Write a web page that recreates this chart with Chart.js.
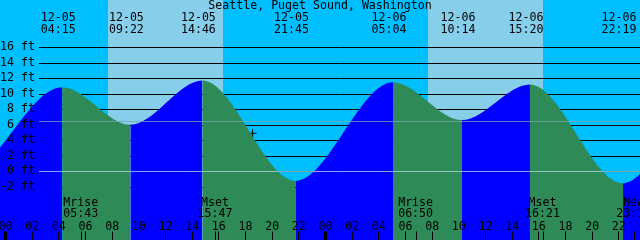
<!DOCTYPE html>
<html>
<head>
<meta charset="utf-8">
<script src="https://cdn.jsdelivr.net/npm/chart.js@4/dist/chart.umd.min.js"></script>
<style>
  html, body { margin: 0; padding: 0; background: #00bfff; }
  canvas { display: block; }
</style>
</head>
<body>
<canvas id="c" width="640" height="240"></canvas>
<script>
// ---------------- data ----------------
const stationTitle = 'Seattle, Puget Sound, Washington';
// tide extremes (the first two and last two lie just outside the visible window)
const tideTimes   = ['12-04 14:05', '12-04 20:55', '12-05 04:15', '12-05 09:22', '12-05 14:46', '12-05 21:45',
                     '12-06 05:04', '12-06 10:14', '12-06 15:20', '12-06 22:19', '12-07 05:00', '12-07 10:50'];
const tideHeights = [11.6, -0.3, 10.85, 6.0, 11.7, -1.25, 11.5, 6.6, 11.2, -1.55, 11.0, 7.0];
// daylight
const sunriseTimes = ['12-05 07:39', '12-06 07:40'];
const sunsetTimes  = ['12-05 16:17', '12-06 16:17'];
// moon events
const moonEvents = ['Mrise', 'Mset', 'Mrise', 'Mset', 'New'];
const moonTimes  = ['12-05 05:43', '12-05 15:47', '12-06 06:50', '12-06 16:21', '12-06 23:11'];
// bottom hour axis
const hourTickValues = [0, 2, 4, 6, 8, 10, 12, 14, 16, 18, 20, 22, 24, 26, 28, 30, 32, 34, 36, 38, 40, 42, 44, 46, 48];
const hourTickLabels = ['00', '02', '04', '06', '08', '10', '12', '14', '16', '18', '20', '22',
                        '00', '02', '04', '06', '08', '10', '12', '14', '16', '18', '20', '22', '00'];
const hourMarkValues = [0, 2, 4, 6, 8, 12, 14, 16, 18, 20, 22, 24, 26, 28, 30, 32, 36, 38, 40, 42, 44, 46];
// depth axis
const depthTickValues = [-2, 0, 2, 4, 6, 8, 10, 12, 14, 16];
const depthTickLabels = ['-2 ft', '0 ft', '2 ft', '4 ft', '6 ft', '8 ft', '10 ft', '12 ft', '14 ft', '16 ft'];
// reference levels: mean sea level and datum
const mslLevel = 6.5;
const datumLevel = 0;
// current-time marker
const nowTime = '12-05 18:32';
const nowHeight = 4.9;

// ---------------- helpers / styles ----------------
function toHours(s) {
  const day = parseInt(s.slice(3, 5), 10) - 5;
  const hh = parseInt(s.slice(6, 8), 10);
  const mm = parseInt(s.slice(9, 11), 10);
  return day * 24 + hh + mm / 60;
}
const FONT_FAMILY = '"DejaVu Sans Mono", "Liberation Mono", monospace';
const FONT_SIZE = 11.6;
const tickFont = { family: FONT_FAMILY, size: FONT_SIZE, lineHeight: 1.2 };
const NIGHT = '#00bfff';
const DAY = '#87ceeb';
const RISING = '#0000ff';
const FALLING = '#2e8b57';
const X_MIN = -0.4125, X_MAX = X_MIN + 48;
const Y_MAX = 20.558, Y_MIN = -8.884;
const GRID_LEFT = 39;

function noPadX(s) { s.height = 0; s.paddingLeft = 0; s.paddingRight = 0; s.paddingTop = 0; s.paddingBottom = 0; }
function noPadY(s) { s.width = 0; s.paddingLeft = 0; s.paddingRight = 0; s.paddingTop = 0; s.paddingBottom = 0; }

const backgroundPlugin = {
  id: 'skyBands',
  beforeDraw(chart) {
    const { ctx, width, height } = chart;
    const xs = chart.scales.x;
    ctx.save();
    ctx.fillStyle = NIGHT;
    ctx.fillRect(0, 0, width, height);
    ctx.fillStyle = DAY;
    sunriseTimes.forEach((r, i) => {
      const a = Math.round(xs.getPixelForValue(toHours(r)));
      const b = Math.round(xs.getPixelForValue(toHours(sunsetTimes[i])));
      ctx.fillRect(a, 0, b - a, height);
    });
    ctx.restore();
  },
  beforeDatasetsDraw(chart) {
    const { ctx, chartArea } = chart;
    const ys = chart.scales.y;
    ctx.save();
    ctx.strokeStyle = '#000';
    ctx.lineWidth = 1;
    depthTickValues.forEach(v => {
      const y = Math.round(ys.getPixelForValue(v)) + 0.5;
      ctx.beginPath();
      ctx.moveTo(GRID_LEFT, y);
      ctx.lineTo(chartArea.right, y);
      ctx.stroke();
    });
    ctx.restore();
  },
  afterDatasetsDraw(chart) {
    const { ctx, chartArea } = chart;
    const ys = chart.scales.y;
    ctx.save();
    ctx.lineWidth = 1;
    [[mslLevel, 'rgba(120,165,180,0.75)'], [datumLevel, 'rgba(170,220,235,0.75)']].forEach(([v, col]) => {
      const y = Math.round(ys.getPixelForValue(v)) + 0.5;
      ctx.strokeStyle = col;
      ctx.beginPath();
      ctx.moveTo(GRID_LEFT, y);
      ctx.lineTo(chartArea.right, y);
      ctx.stroke();
    });
    ctx.restore();
  },
  afterDraw(chart) {
    const { ctx } = chart;
    const xs = chart.scales.x;
    ctx.save();
    ctx.font = FONT_SIZE + 'px ' + FONT_FAMILY;
    ctx.fillStyle = '#000';
    ctx.textAlign = 'center';
    ctx.textBaseline = 'middle';
    tideTimes.forEach(t => {
      const h = toHours(t);
      if (h < X_MIN || h > X_MAX) return;
      const px = xs.getPixelForValue(h) - 4;
      ctx.fillText(t.slice(0, 5), px, 17.5);
      ctx.fillText(t.slice(6), px, 29.5);
    });
    moonTimes.forEach((t, i) => {
      const px = xs.getPixelForValue(toHours(t)) - 1;
      ctx.fillText(moonEvents[i], px, 202.5);
      ctx.fillText(t.slice(6), px, 213.5);
    });
    ctx.restore();
  }
};

const tideData = tideTimes.map((t, i) => ({ x: toHours(t), y: tideHeights[i] }));
const markTicks = hourMarkValues.concat(moonTimes.map(toHours));

new Chart(document.getElementById('c'), {
  type: 'line',
  data: {
    datasets: [
      {
        data: tideData,
        fill: 'start',
        backgroundColor: RISING,
        borderColor: 'rgba(0,0,0,0)',
        borderWidth: 0,
        pointRadius: 0,
        cubicInterpolationMode: 'monotone',
        segment: {
          backgroundColor: c => (c.p1.parsed.y > c.p0.parsed.y ? RISING : FALLING)
        }
      },
      {
        data: [{ x: toHours(nowTime), y: nowHeight }],
        showLine: false,
        fill: false,
        pointStyle: 'cross',
        pointRadius: 4,
        borderWidth: 1,
        borderColor: '#000',
        backgroundColor: '#000'
      }
    ]
  },
  options: {
    responsive: false,
    animation: false,
    devicePixelRatio: 1,
    layout: { padding: 0, autoPadding: false },
    events: [],
    plugins: {
      legend: { display: false },
      tooltip: { enabled: false },
      title: {
        display: true,
        text: stationTitle,
        color: '#000',
        font: { family: FONT_FAMILY, size: FONT_SIZE, lineHeight: '12px', weight: 'normal' },
        padding: { top: 0, bottom: 0 }
      }
    },
    scales: {
      x: {
        type: 'linear',
        position: 'bottom',
        min: X_MIN,
        max: X_MAX,
        afterFit: noPadX,
        afterBuildTicks: s => { s.ticks = hourTickValues.map(v => ({ value: v })); },
        grid: { display: false, drawTicks: false },
        border: { display: false },
        ticks: {
          z: 1,
          mirror: true,
          autoSkip: false,
          maxRotation: 0,
          minRotation: 0,
          padding: 6.5,
          color: '#000',
          font: tickFont,
          callback: (v, i) => hourTickLabels[i]
        }
      },
      x2: {
        type: 'linear',
        axis: 'x',
        position: 'bottom',
        min: X_MIN,
        max: X_MAX,
        afterFit: noPadX,
        afterBuildTicks: s => { s.ticks = markTicks.map(v => ({ value: v })); },
        grid: {
          display: true,
          drawOnChartArea: false,
          drawTicks: true,
          tickLength: -8.5,
          color: '#000',
          lineWidth: c => (c.tick && Math.abs(c.tick.value % 24) < 1e-6 ? 3 : 1),
          z: 1
        },
        border: { display: false },
        ticks: { display: false }
      },
      y: {
        type: 'linear',
        position: 'left',
        min: Y_MIN,
        max: Y_MAX,
        afterFit: noPadY,
        afterBuildTicks: s => { s.ticks = depthTickValues.map(v => ({ value: v })); },
        grid: { display: false, drawTicks: false },
        border: { display: false },
        ticks: {
          z: 1,
          mirror: true,
          crossAlign: 'far',
          padding: 0,
          color: '#000',
          font: tickFont,
          callback: (v, i) => depthTickLabels[i]
        }
      }
    }
  },
  plugins: [backgroundPlugin]
});
</script>
</body>
</html>
